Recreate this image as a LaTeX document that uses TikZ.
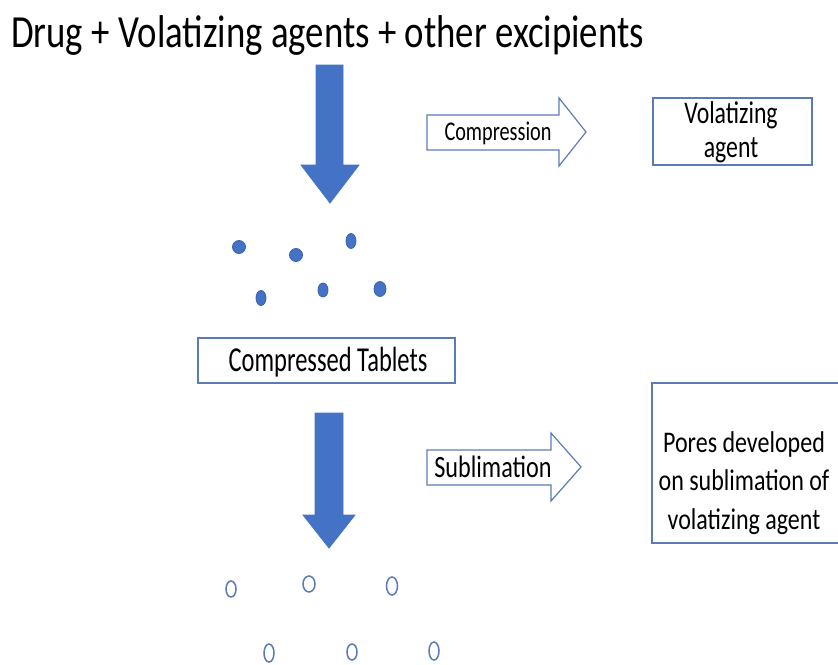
\documentclass[tikz,border=0pt]{standalone}
\usepackage{fontspec}
\setmainfont{Carlito}
% narrowed cuts of the face used for the labels
\newfontfamily\titleface[FakeStretch=0.80]{Carlito}
\newfontfamily\tabletface[FakeStretch=0.70]{Carlito}
\newfontfamily\compface[FakeStretch=0.75]{Carlito}
\newfontfamily\sublface[FakeStretch=0.78]{Carlito}
\newfontfamily\volface[FakeStretch=0.755]{Carlito}
\newfontfamily\poreface[FakeStretch=0.80]{Carlito}
\definecolor{officeblue}{HTML}{4472C4}
\definecolor{edgeblue}{HTML}{5B7BB8}
\definecolor{dotedge}{HTML}{3A63AE}
\tikzset{
  solidarrow/.style={fill=officeblue, draw=officeblue, line width=0.8pt},
  hollowarrow/.style={draw=edgeblue, fill=white, line width=1.2pt},
  labelbox/.style={draw=edgeblue, fill=white, line width=1.2pt},
  granule/.style={fill=officeblue, draw=dotedge, line width=0.8pt},
  pore/.style={draw=edgeblue, line width=1.5pt},
  boxtext/.style={align=center, inner sep=0pt, anchor=base}
}
\begin{document}
\begin{tikzpicture}[x=1pt, y=-1pt]
\useasboundingbox (0,0) rectangle (838,664);

% title
\node[anchor=base west, inner sep=0pt, font=\titleface\fontsize{46}{50}\selectfont] (title) at (11,47)
  {Drug + Volatizing agents + other excipients};

% downward block arrows
\draw[solidarrow] (316,65) -- (343,65) -- (343,165) -- (359,165) -- (330,203)
  -- (301,165) -- (316,165) -- cycle;
\draw[solidarrow] (315,413) -- (343,413) -- (343,515) -- (355,515) -- (329,548)
  -- (303,515) -- (315,515) -- cycle;

% rightward outlined arrows
\draw[hollowarrow] (427,115) -- (559,115) -- (559,98) -- (586,132) -- (559,166)
  -- (559,150) -- (427,150) -- cycle;
\node[boxtext, font=\compface\fontsize{27}{30}\selectfont] (compr) at (498,140) {Compression};

\draw[hollowarrow] (427,450) -- (551,450) -- (551,433) -- (581,467) -- (551,501)
  -- (551,485) -- (427,485) -- cycle;
\node[boxtext, font=\sublface\fontsize{31}{34}\selectfont] (subl) at (493,477) {Sublimation};

% boxes (multi-line labels are placed by the baseline of their last line)
\draw[labelbox] (653,98) rectangle (812,165);
\node[boxtext, font=\volface\fontsize{31.5}{34}\selectfont] (vol) at (731,157) {Volatizing\\agent};

\draw[labelbox] (198,338) rectangle (455,383);
\node[boxtext, font=\tabletface\fontsize{35}{38}\selectfont] (tab) at (328,371) {Compressed Tablets};

\draw[labelbox] (845,383) -- (652,383) -- (652,543) -- (845,543);
\node[boxtext, font=\poreface\fontsize{30}{38.5}\selectfont] (pores) at (744,529)
  {Pores developed\\on sublimation of\\volatizing agent};

% volatizing agent granules
\draw[granule] (239,247) ellipse (6.5 and 6.5);
\draw[granule] (296,255) ellipse (6.5 and 6.5);
\draw[granule] (351,241) ellipse (5 and 7.5);
\draw[granule] (261,298) ellipse (5 and 7.5);
\draw[granule] (323,290) ellipse (5 and 7);
\draw[granule] (380,289) ellipse (6 and 7.5);

% pores left after sublimation
\draw[pore] (231,589) ellipse (5 and 8);
\draw[pore] (309,584) ellipse (6 and 8);
\draw[pore] (392,586) ellipse (5.5 and 9);
\draw[pore] (269,653) ellipse (5 and 9);
\draw[pore] (352,652) ellipse (5 and 8);
\draw[pore] (434,651) ellipse (5 and 9);
\end{tikzpicture}
\end{document}
